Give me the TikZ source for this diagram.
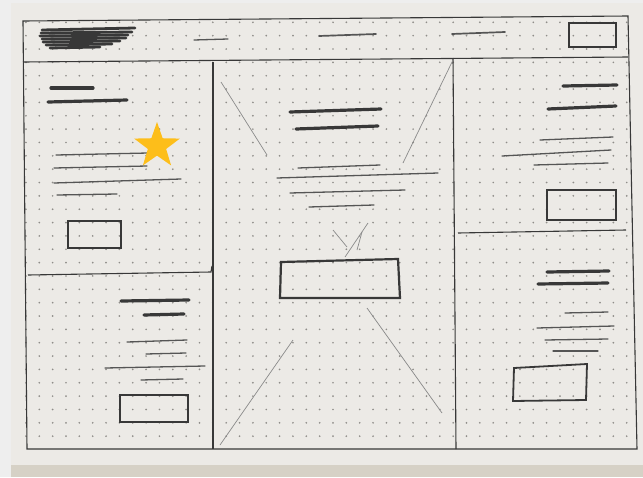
\documentclass[tikz,border=0pt]{standalone}
\usetikzlibrary{shapes.geometric}
\definecolor{bgc}{HTML}{EEEEEE}
\definecolor{paper}{HTML}{ECEAE6}
\definecolor{edgec}{HTML}{D6D1C6}
\definecolor{ink}{HTML}{383838}
\definecolor{inkthin}{HTML}{555555}
\definecolor{pencil}{HTML}{8A8A8A}
\definecolor{dotc}{HTML}{8F8D89}
\definecolor{starc}{HTML}{FDBE1A}
\tikzset{
  frame/.style={draw=ink, line width=1.1pt},
  heavy/.style={draw=ink, line width=3.2pt, line cap=round},
  thin/.style={draw=inkthin, line width=1.3pt, line cap=round},
  sketchbox/.style={draw=ink, line width=1.8pt},
  guide/.style={draw=pencil, line width=0.7pt},
}
\begin{document}
\begin{tikzpicture}[x=1pt,y=-1pt]
\useasboundingbox (0,0) rectangle (643,477);
\fill[bgc] (0,0) rectangle (643,477);
\fill[paper] (11,3) rectangle (643,467);
\fill[edgec] (11,465) rectangle (643,477);
% dot grid
\foreach \i in {-1,...,44}{
  \foreach \j in {-4,...,27}{
    \fill[dotc] ({39.3+13.35*\i},{75.7+13.35*\j}) circle (0.95);
  }
}
% frame
\draw[frame] (23,21) -- (628,16) -- (637,449) -- (27,449) -- cycle;
\draw[frame] (23,62) -- (628,57);
\draw[frame] (213,62) -- (213,449);
\draw[frame] (453,58) -- (456,449);
\draw[frame] (28,275) -- (211,272) -- (212,266);
\draw[frame] (458,233) -- (626,230);
% header scribble
\foreach \a/\b/\c/\d in {42/30/135/28, 41/33/132/32, 40/36/128/35, 42/39/126/38, 43/42/120/41, 46/45/112/44, 50/48/100/47}{
  \draw[heavy, line width=2.8pt] (\a,\b) -- (\c,\d);
}
\draw[thin] (194,40) -- (228,39);
\draw[thin, line width=1.7pt] (319,36) -- (376,34);
\draw[thin, line width=1.7pt] (452,34) -- (505,32);
\draw[sketchbox, line width=1.4pt] (569,23) rectangle (616,47);
% left column top
\draw[heavy] (51,88) -- (93,88);
\draw[heavy] (48,102) -- (127,100);
\draw[thin] (56,155) -- (148,153);
\draw[thin] (54,168) -- (147,166);
\draw[thin] (54,183) -- (181,179);
\draw[thin] (57,195) -- (117,194);
\draw[sketchbox] (68,221) rectangle (121,248);
\node[star, star points=5, star point ratio=2.5, fill=starc, minimum size=48pt, inner sep=0pt] (stardeco) at (157,146) {};
% left column bottom
\draw[heavy] (121,301) -- (189,300);
\draw[heavy] (144,315) -- (184,314);
\draw[thin] (127,342) -- (187,340);
\draw[thin] (146,354) -- (186,353);
\draw[thin] (105,368) -- (205,366);
\draw[thin] (141,380) -- (183,379);
\draw[sketchbox] (120,395) rectangle (188,422);
% middle column
\draw[guide] (221,82) -- (267,155);
\draw[guide] (453,60) -- (403,163);
\draw[guide] (293,340) -- (220,445);
\draw[guide] (367,308) -- (442,413);
\draw[guide] (333,230) -- (347,247);
\draw[guide] (368,223) -- (345,257);
\draw[guide] (362,232) -- (357,250);
\draw[heavy] (290,112) -- (381,109);
\draw[heavy] (296,129) -- (378,126);
\draw[thin] (298,168) -- (380,165);
\draw[thin] (277,178) -- (438,173);
\draw[thin] (290,193) -- (405,190);
\draw[thin] (309,207) -- (374,205);
\draw[sketchbox, line width=2.2pt] (281,262) -- (398,259) -- (400,298) -- (280,298) -- cycle;
% right column top
\draw[heavy] (563,86) -- (617,85);
\draw[heavy] (548,109) -- (616,106);
\draw[thin] (540,140) -- (613,137);
\draw[thin] (502,156) -- (611,150);
\draw[thin] (534,165) -- (608,163);
\draw[sketchbox] (547,190) rectangle (616,220);
% right column bottom
\draw[heavy] (547,272) -- (609,271);
\draw[heavy] (538,284) -- (608,283);
\draw[thin] (565,313) -- (608,312);
\draw[thin] (537,328) -- (614,326);
\draw[thin] (545,340) -- (608,339);
\draw[thin] (553,351) -- (598,351);
\draw[sketchbox] (514,368) -- (587,364) -- (586,400) -- (513,401) -- cycle;
\end{tikzpicture}
\end{document}
